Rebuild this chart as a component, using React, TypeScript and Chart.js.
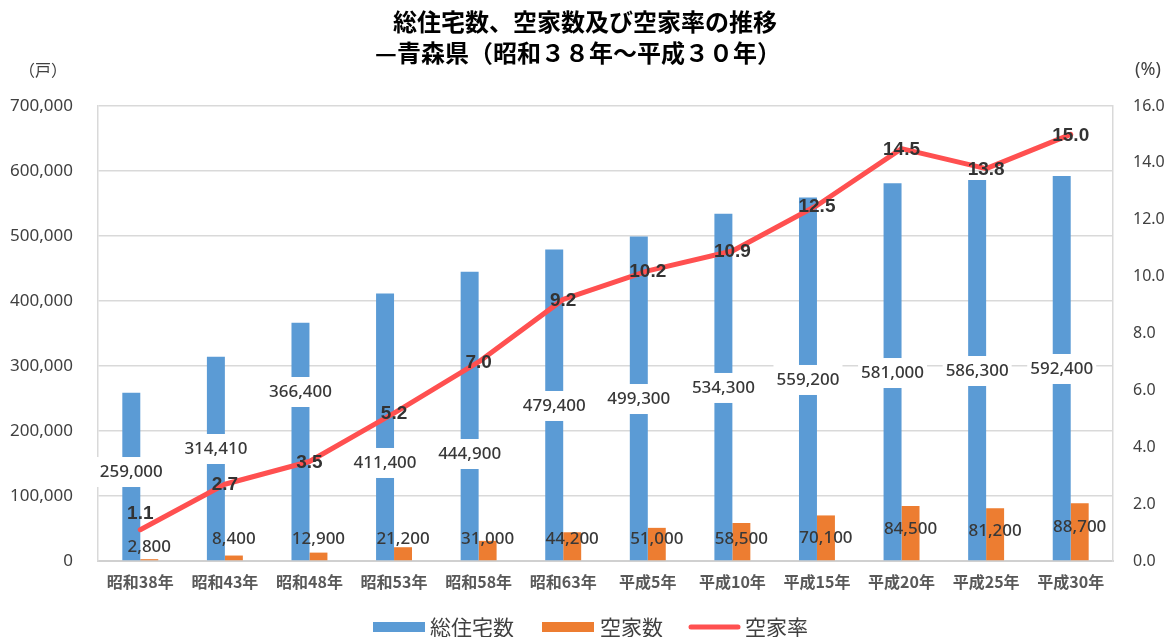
import React, { useEffect, useRef } from "react";
import { Chart, registerables } from "chart.js";

Chart.register(...registerables);

const titleLines = ["総住宅数、空家数及び空家率の推移", "—青森県（昭和３８年～平成３０年）"];
const leftUnit = "（戸）";
const rightUnit = "(%)";

const categories = [
  "昭和38年", "昭和43年", "昭和48年", "昭和53年", "昭和58年", "昭和63年",
  "平成5年", "平成10年", "平成15年", "平成20年", "平成25年", "平成30年",
];
const totalHouses = [259000, 314410, 366400, 411400, 444900, 479400, 499300, 534300, 559200, 581000, 586300, 592400];
const vacantHouses = [2800, 8400, 12900, 21200, 31000, 44200, 51000, 58500, 70100, 84500, 81200, 88700];
const vacancyRate = [1.1, 2.7, 3.5, 5.2, 7.0, 9.2, 10.2, 10.9, 12.5, 14.5, 13.8, 15.0];

// label anchors (in axis units) for the data labels
const totalLabelAt = [136900, 172300, 260000, 150800, 164600, 238500, 249200, 266200, 278500, 289200, 292300, 295400];
const vacantLabelAt = [21500, 33800, 33800, 33800, 33800, 33800, 33800, 33800, 35400, 49200, 46200, 52300];
const rateLabelAt = [1.7, 2.7, 3.5, 5.2, 7.0, 9.2, 10.2, 10.9, 12.5, 14.5, 13.8, 15.0];

const seriesNames = ["総住宅数", "空家数", "空家率"];
const BLUE = "#5B9BD5";
const ORANGE = "#ED7D31";
const RED = "#FF5050";
const TEXT = "#404040";
const LABEL = "#383838";
const GRID = "#D9D9D9";

const fmt = (v: number) => v.toLocaleString("en-US");

const decorPlugin = {
  id: "decor",
  afterDatasetsDraw(chart: any) {
    const ctx = chart.ctx;
    const yL = chart.scales.y;
    const yR = chart.scales.y1;
    const blueMeta = chart.getDatasetMeta(0);
    const orangeMeta = chart.getDatasetMeta(1);
    const lineMeta = chart.getDatasetMeta(2);
    ctx.save();
    ctx.textAlign = "center";
    ctx.textBaseline = "middle";
    // total labels with white boxes
    ctx.font = '500 17px "Noto Sans", sans-serif';
    totalHouses.forEach((v, i) => {
      const x = blueMeta.data[i].x;
      const y = yL.getPixelForValue(totalLabelAt[i]);
      const t = fmt(v);
      const w = ctx.measureText(t).width + 6;
      ctx.fillStyle = "#FFFFFF";
      ctx.fillRect(x - w / 2, y - 15, w, 30);
      ctx.fillStyle = LABEL;
      ctx.fillText(t, x, y);
    });
    // vacant labels
    vacantHouses.forEach((v, i) => {
      const x = orangeMeta.data[i].x;
      const y = yL.getPixelForValue(vacantLabelAt[i]);
      ctx.fillStyle = LABEL;
      ctx.fillText(fmt(v), x, y);
    });
    // rate labels
    ctx.font = 'bold 19px "Liberation Sans", Arial, sans-serif';
    vacancyRate.forEach((v, i) => {
      const x = lineMeta.data[i].x;
      const y = yR.getPixelForValue(rateLabelAt[i]);
      ctx.fillStyle = "#333333";
      ctx.fillText(v.toFixed(1), x, y + 1);
    });
    ctx.restore();
  },
  afterDraw(chart: any) {
    const ctx = chart.ctx;
    ctx.save();
    ctx.textAlign = "center";
    ctx.textBaseline = "middle";
    ctx.fillStyle = "#000000";
    ctx.font = 'bold 24px "Noto Sans CJK JP"';
    ctx.fillText(titleLines[0], 585, 22);
    ctx.fillText(titleLines[1], 578, 53);
    ctx.fillStyle = TEXT;
    ctx.font = '16px "Noto Sans CJK JP"';
    ctx.fillText(leftUnit, 43, 70);
    ctx.font = '18px "Noto Sans"';
    ctx.fillText(rightUnit, 1148, 70);

    // legend
    const ly = 627;
    ctx.textAlign = "left";
    ctx.font = '21px "Noto Sans CJK JP"';
    ctx.fillStyle = BLUE;
    ctx.fillRect(373, ly - 5, 52, 10);
    ctx.fillStyle = TEXT;
    ctx.fillText(seriesNames[0], 430, ly);
    ctx.fillStyle = ORANGE;
    ctx.fillRect(542, ly - 5, 52, 10);
    ctx.fillStyle = TEXT;
    ctx.fillText(seriesNames[1], 600, ly);
    ctx.strokeStyle = RED;
    ctx.lineWidth = 5;
    ctx.lineCap = "round";
    ctx.beginPath();
    ctx.moveTo(691, ly);
    ctx.lineTo(738, ly);
    ctx.stroke();
    ctx.fillStyle = TEXT;
    ctx.fillText(seriesNames[2], 745, ly);
    ctx.restore();
  },
};

export default function App() {
  const ref = useRef<HTMLCanvasElement | null>(null);
  useEffect(() => {
    document.body.style.margin = "0";
    const canvas = ref.current;
    if (!canvas) return;
    const chart = new Chart(canvas, {
      type: "bar",
      data: {
        labels: categories,
        datasets: [
          {
            type: "bar",
            label: seriesNames[0],
            data: totalHouses,
            backgroundColor: BLUE,
            yAxisID: "y",
            order: 1,
            categoryPercentage: 0.425,
            barPercentage: 1.0,
          },
          {
            type: "bar",
            label: seriesNames[1],
            data: vacantHouses,
            backgroundColor: ORANGE,
            yAxisID: "y",
            order: 2,
            categoryPercentage: 0.425,
            barPercentage: 1.0,
          },
          {
            type: "line",
            label: seriesNames[2],
            data: vacancyRate,
            borderColor: RED,
            backgroundColor: RED,
            borderWidth: 5,
            pointRadius: 0,
            borderCapStyle: "round",
            borderJoinStyle: "round",
            tension: 0,
            yAxisID: "y1",
            order: 0,
          },
        ],
      } as any,
      options: {
        responsive: false,
        animation: false,
        devicePixelRatio: 1,
        layout: { padding: { top: 106, left: 0, right: 0, bottom: 0 } },
        plugins: {
          legend: { display: false },
          title: { display: false },
          tooltip: { enabled: false },
        },
        scales: {
          x: {
            grid: { display: false, drawTicks: false },
            border: { display: true, color: "#D0D0D0", width: 2 },
            ticks: {
              font: { family: '"Noto Sans CJK JP"', size: 16, weight: "bold" },
              color: "#595959",
              padding: 11,
              maxRotation: 0,
              autoSkip: false,
            },
            afterFit: (s: any) => {
              s.height = 76;
            },
          },
          y: {
            position: "left",
            min: 0,
            max: 700000,
            ticks: {
              stepSize: 100000,
              callback: (v: any) => fmt(Number(v)),
              font: { family: '"Noto Sans"', size: 17 },
              color: TEXT,
              padding: 25,
            },
            grid: { color: GRID, lineWidth: 1.5, drawTicks: false },
            border: { display: true, color: GRID, width: 1.5 },
            afterFit: (s: any) => {
              s.width = 98;
            },
          },
          y1: {
            position: "right",
            min: 0,
            max: 16,
            ticks: {
              stepSize: 2,
              callback: (v: any) => Number(v).toFixed(1),
              font: { family: '"Noto Sans"', size: 16 },
              color: TEXT,
              padding: 20,
            },
            grid: { drawOnChartArea: false, drawTicks: false },
            border: { display: true, color: GRID, width: 1.5 },
            afterFit: (s: any) => {
              s.width = 53;
            },
          },
        },
      } as any,
      plugins: [decorPlugin],
    });
    return () => chart.destroy();
  }, []);
  return (
    <div style={{ width: 1166, height: 637 }}>
      <canvas ref={ref} width={1166} height={637} style={{ display: "block" }} />
    </div>
  );
}
